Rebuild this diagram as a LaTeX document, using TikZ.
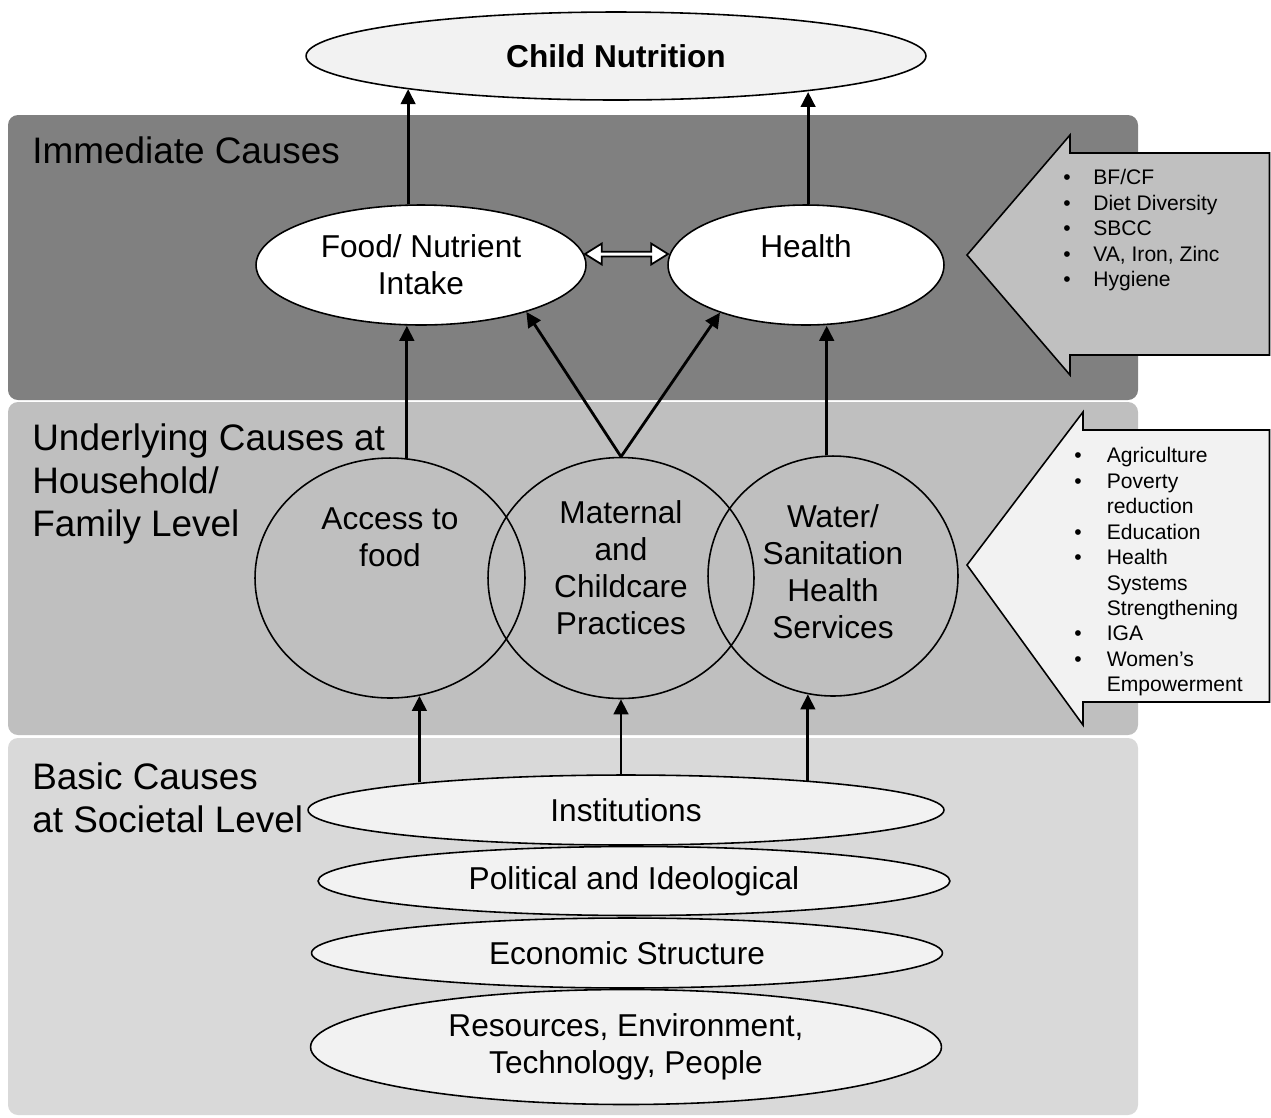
\documentclass[tikz,border=0pt]{standalone}
\usepackage{fontspec}
\setsansfont{Liberation Sans}
\usepackage{tikz}
\usetikzlibrary{positioning, calc, arrows.meta, shapes.geometric, shapes.arrows}
\definecolor{bandimmediate}{HTML}{808080}
\definecolor{bandunderlying}{HTML}{BFBFBF}
\definecolor{bandbasic}{HTML}{D9D9D9}
\definecolor{ovalfill}{HTML}{F2F2F2}
\definecolor{actiontop}{HTML}{C0C0C0}
\definecolor{actionbottom}{HTML}{F2F2F2}
\newcommand{\blt}[1][0.6cm]{\makebox[#1][l]{\textbullet}}

\begin{document}
\begin{tikzpicture}[
  x=0.02cm, y=-0.02cm,
  font=\sffamily,
  causeband/.style={rounded corners=0.2cm},
  bandlabel/.style={
    anchor=north west, align=left, inner sep=0pt,
    font=\sffamily\fontsize{21}{24.5}\selectfont,
  },
  causeoval/.style={
    ellipse, draw=black, line width=0.9pt, inner sep=0pt, align=center,
    font=\sffamily\fontsize{18}{21}\selectfont,
  },
  ovaltext/.style={
    inner sep=0pt, align=center,
    font=\sffamily\fontsize{18}{21}\selectfont,
  },
  causeflow/.style={
    -{Triangle[length=0.3cm, width=0.29cm]}, line width=1.6pt,
  },
  actionbox/.style={draw=black, line width=0.9pt, line join=miter},
  actionlist/.style={
    anchor=north west, align=left, inner sep=0pt,
    font=\sffamily\fontsize{12}{14.5}\selectfont,
  },
]
\useasboundingbox (0,0) rectangle (1271,1117);

% the three levels
\fill[bandbasic, causeband]      (8,738) rectangle (1138,1115);
\fill[bandunderlying, causeband] (8,402) rectangle (1138,735);
\fill[bandimmediate, causeband]  (8,115) rectangle (1138,400);

\node[bandlabel] (immlabel) at (32,136) {Immediate Causes};
\node[bandlabel] (undlabel) at (32,423) {Underlying Causes at\\Household/\\Family Level};
\node[bandlabel] (baslabel) at (32,762) {Basic Causes\\at Societal Level};

% interventions
\filldraw[actionbox, fill=actiontop] (967,255) -- (1070,135) -- (1070,153) -- (1269.5,153)
  -- (1269.5,355) -- (1070,355) -- (1070,375) -- cycle;
\node[actionlist] (immlist) at (1063,169) {%
  \blt BF/CF\\
  \blt Diet Diversity\\
  \blt SBCC\\
  \blt VA, Iron, Zinc\\
  \blt Hygiene};
\filldraw[actionbox, fill=actionbottom] (967,565) -- (1083,412) -- (1083,430) -- (1269.5,430)
  -- (1269.5,702) -- (1083,702) -- (1083,725) -- cycle;
\node[actionlist] (undlist) at (1074,447) {%
  \blt[0.65cm]Agriculture\\
  \blt[0.65cm]Poverty\\\hspace*{0.65cm}reduction\\
  \blt[0.65cm]Education\\
  \blt[0.65cm]Health\\\hspace*{0.65cm}Systems\\\hspace*{0.65cm}Strengthening\\
  \blt[0.65cm]IGA\\
  \blt[0.65cm]Women’s\\\hspace*{0.65cm}Empowerment};

% outcome and immediate causes
\node[causeoval, fill=ovalfill, minimum width=12.4cm, minimum height=1.76cm] (nutrition) at (616,56) {\bfseries Child Nutrition};
\node[causeoval, fill=white, minimum width=6.6cm, minimum height=2.4cm] (intake) at (421,265) {Food/ Nutrient\\Intake};
\node[causeoval, fill=white, minimum width=5.52cm, minimum height=2.4cm] (health) at (806,265) {};
\node[ovaltext] (healthtxt) at (806,246) {Health};
\node[double arrow, draw=black, fill=white, line width=1pt, inner sep=0pt,
  minimum height=1.66cm, minimum width=0.42cm,
  double arrow head extend=0.06cm, double arrow tip angle=64] (exchange) at (626.5,254) {};

% underlying causes
\node[causeoval, minimum width=5.4cm, minimum height=4.8cm] (access) at (390,578) {};
\node[ovaltext] (accesstxt) at (390,537) {Access to\\food};
\node[causeoval, minimum width=5.32cm, minimum height=4.82cm] (care) at (621,578) {};
\node[ovaltext] (caretxt) at (621,568) {Maternal\\and\\Childcare\\Practices};
\node[causeoval, minimum width=5cm, minimum height=4.8cm] (wash) at (833,576) {};
\node[ovaltext] (washtxt) at (833,572) {Water/\\Sanitation\\Health\\Services};

% basic causes
\node[causeoval, fill=ovalfill, minimum width=12.72cm, minimum height=1.4cm] (inst) at (626,810) {Institutions};
\node[causeoval, fill=ovalfill, minimum width=12.64cm, minimum height=1.38cm] (politics) at (634,881) {Political and Ideological};
\node[causeoval, fill=ovalfill, minimum width=12.62cm, minimum height=1.4cm] (economy) at (627,953) {Economic Structure};
\node[causeoval, fill=ovalfill, minimum width=12.62cm, minimum height=2.3cm] (resources) at (626,1047) {Resources, Environment,\\Technology, People};

% causal links
\draw[causeflow] (intake.102) -- (intake.102 |- nutrition.189);
\draw[causeflow] (health.88) -- (health.88 |- nutrition.-11);
\draw[causeflow] (access.82) -- (access.82 |- intake.south);
\draw[causeflow] (care.north) -- (intake.-24);
\draw[causeflow] (care.north) -- (health.209);
\draw[causeflow] (wash.93) -- (wash.93 |- health.south);
\draw[causeflow] (access.-76 |- inst.172) -- (access.-76);
\draw[causeflow] (care.south |- inst.north) -- (care.south);
\draw[causeflow] (wash.-102 |- inst.9) -- (wash.-102);
\end{tikzpicture}
\end{document}
